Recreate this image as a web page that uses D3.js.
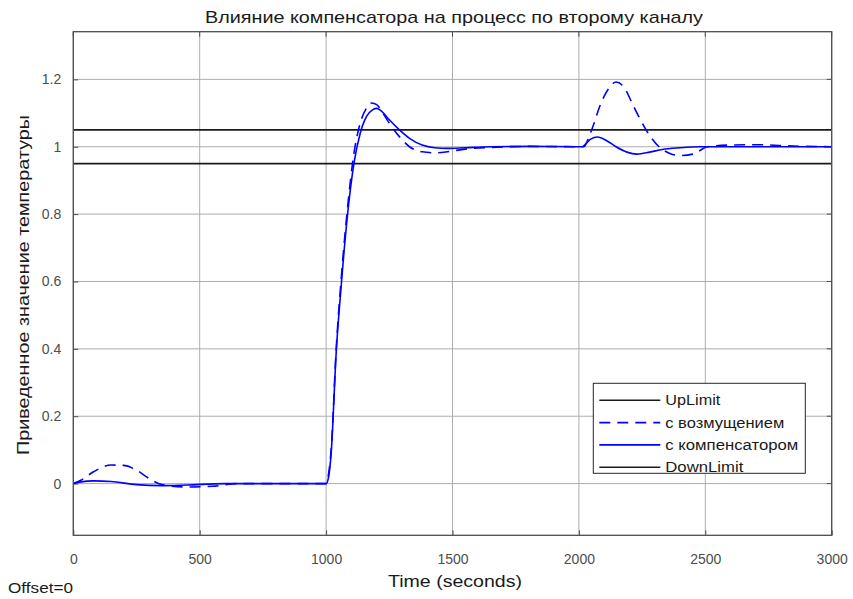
<!DOCTYPE html>
<html><head><meta charset="utf-8">
<script src="https://cdn.jsdelivr.net/npm/d3@7"></script>
<style>body{margin:0;background:#fff}svg{display:block}text{font-family:"Liberation Sans",Arial,sans-serif}</style>
</head><body><svg id="c" width="853" height="599"></svg>
<script>
const title = "Влияние компенсатора на процесс по второму каналу";
const xLabel = "Time (seconds)";
const yLabel = "Приведенное значение температуры";
const offsetLabel = "Offset=0";
const xTicks = [0, 500, 1000, 1500, 2000, 2500, 3000];
const yTicks = [0, 0.2, 0.4, 0.6, 0.8, 1, 1.2];
const legendNames = ["UpLimit", "с возмущением", "с компенсатором", "DownLimit"];
const upLimit = 1.05;
const downLimit = 0.95;

const timeDist = [0,30,80,150,200,250,300,350,450,550,650,1000,1010,1020,1040,1060,1085,1110,1135,1160,1180,1200,1220,1250,1290,1330,1380,1430,1480,1550,1650,1800,2000,2020,2040,2060,2080,2100,2120,2147,2180,2210,2240,2270,2317,2360,2400,2450,2510,2600,2700,2850,3000];
const valDist  = [0,0.01,0.035,0.055,0.054,0.04,0.015,-0.003,-0.01,-0.008,0,0,0.03,0.1,0.40,0.61,0.82,0.98,1.07,1.115,1.13,1.125,1.105,1.07,1.03,1.0,0.985,0.982,0.985,0.993,0.998,1.001,1.0,1.0,1.03,1.07,1.115,1.15,1.175,1.192,1.175,1.13,1.085,1.045,1.0,0.98,0.974,0.978,1.0,1.005,1.006,1.002,1.0];

const timeComp = [0,30,80,150,250,350,450,600,1000,1010,1020,1040,1060,1085,1110,1135,1160,1185,1200,1220,1250,1290,1330,1380,1430,1480,1550,1650,1800,2000,2012,2045,2074,2110,2147,2190,2229,2280,2330,2400,2480,2600,3000];
const valComp  = [0,0.005,0.008,0.006,-0.003,-0.006,-0.004,0,0,0.02,0.09,0.39,0.59,0.80,0.95,1.04,1.09,1.11,1.114,1.105,1.08,1.05,1.025,1.005,0.997,0.995,0.997,1.0,1.001,1.0,1.0,1.022,1.029,1.018,1.0,0.984,0.978,0.984,0.992,0.997,1.0,1.0,1.0];

const svg = d3.select("#c");
const L = 73.3, R = 831.7, T = 31.7, B = 535.3;
const x = d3.scaleLinear().domain([0, 3000]).range([L, R]);
const y = d3.scaleLinear().domain([-0.1535, 1.3415]).range([B, T]);
const axisCol = "#4d4d4d";
const FONT = "'Liberation Sans',Arial,sans-serif";

// grid
const g = svg.append("g");
g.selectAll(".gx").data(xTicks).enter().append("line")
  .attr("x1", d => x(d)).attr("x2", d => x(d)).attr("y1", T).attr("y2", B)
  .attr("stroke", "#adadad").attr("stroke-width", 1);
g.selectAll(".gy").data(yTicks).enter().append("line")
  .attr("y1", d => y(d)).attr("y2", d => y(d)).attr("x1", L).attr("x2", R)
  .attr("stroke", "#adadad").attr("stroke-width", 1);

// axes (ticks inward)
const xAxis = d3.axisBottom(x).tickValues(xTicks).tickSize(-5).tickPadding(19).tickFormat(d3.format("d"));
const yAxis = d3.axisLeft(y).tickValues(yTicks).tickSize(-5).tickPadding(12).tickFormat(d => d === 0 ? "0" : d3.format("~g")(d));
const xa = svg.append("g").attr("transform", `translate(0,${B})`).call(xAxis);
const ya = svg.append("g").attr("transform", `translate(${L},0)`).call(yAxis);
[xa, ya].forEach(a => {
  a.select(".domain").remove();
  a.selectAll("line").attr("stroke", axisCol);
  a.selectAll("text").attr("fill", axisCol).style("font-size", "14px").style("font-family", FONT);
});
// top/right ticks
svg.append("g").selectAll("line").data(xTicks).enter().append("line")
  .attr("x1", d => x(d)).attr("x2", d => x(d)).attr("y1", T).attr("y2", T + 5).attr("stroke", axisCol);
svg.append("g").selectAll("line").data(yTicks).enter().append("line")
  .attr("y1", d => y(d)).attr("y2", d => y(d)).attr("x1", R).attr("x2", R - 5).attr("stroke", axisCol);

// clip
svg.append("clipPath").attr("id", "clip").append("rect").attr("x", L).attr("y", T).attr("width", R - L).attr("height", B - T);
const plot = svg.append("g").attr("clip-path", "url(#clip)");

// limits
[upLimit, downLimit].forEach(v => {
  plot.append("line").attr("x1", L).attr("x2", R).attr("y1", y(v)).attr("y2", y(v))
    .attr("stroke", "#1a1a1a").attr("stroke-width", 1.8);
});

const line = d3.line().x(d => x(d[0])).y(d => y(d[1])).curve(d3.curveMonotoneX);
plot.append("path").datum(d3.zip(timeDist, valDist)).attr("d", line)
  .attr("fill", "none").attr("stroke", "#0000ff").attr("stroke-width", 1.6).attr("stroke-dasharray", "11,7");
plot.append("path").datum(d3.zip(timeComp, valComp)).attr("d", line)
  .attr("fill", "none").attr("stroke", "#0000ff").attr("stroke-width", 1.6);

// box
svg.append("rect").attr("x", L).attr("y", T).attr("width", R - L).attr("height", B - T)
  .attr("fill", "none").attr("stroke", axisCol).attr("stroke-width", 1.3);

// texts
svg.append("text").attr("x", 454).attr("y", 23).attr("text-anchor", "middle")
  .attr("textLength", 498).attr("lengthAdjust", "spacingAndGlyphs")
  .style("font-size", "17px").attr("fill", "#1a1a1a").text(title);
svg.append("text").attr("x", 455).attr("y", 587).attr("text-anchor", "middle")
  .attr("textLength", 134).attr("lengthAdjust", "spacingAndGlyphs")
  .style("font-size", "17px").attr("fill", "#1a1a1a").text(xLabel);
svg.append("text").attr("transform", `translate(29,285) rotate(-90)`).attr("text-anchor", "middle")
  .attr("textLength", 340).attr("lengthAdjust", "spacingAndGlyphs")
  .style("font-size", "17px").attr("fill", "#1a1a1a").text(yLabel);
svg.append("text").attr("x", 8).attr("y", 593).attr("textLength", 65).attr("lengthAdjust", "spacingAndGlyphs")
  .style("font-size", "14px").attr("fill", "#1a1a1a").text(offsetLabel);

// legend
const lx = 593.3, ly = 383.3, lw = 212, lh = 90;
const leg = svg.append("g");
leg.append("rect").attr("x", lx).attr("y", ly).attr("width", lw).attr("height", lh)
  .attr("fill", "#fff").attr("stroke", "#262626").attr("stroke-width", 1);
const legStyles = [
  {c: "#1a1a1a", d: null, w: 55},
  {c: "#0000ff", d: "11,7", w: 119},
  {c: "#0000ff", d: null, w: 133},
  {c: "#1a1a1a", d: null, w: 78}
];
legendNames.forEach((n, i) => {
  const yy = ly + 17 + i * 22.3;
  leg.append("line").attr("x1", lx + 6).attr("x2", lx + 67).attr("y1", yy).attr("y2", yy)
    .attr("stroke", legStyles[i].c).attr("stroke-width", 1.6).attr("stroke-dasharray", legStyles[i].d);
  leg.append("text").attr("x", lx + 72).attr("y", yy + 5)
    .attr("textLength", legStyles[i].w).attr("lengthAdjust", "spacingAndGlyphs")
    .style("font-size", "14px").attr("fill", "#1a1a1a").text(n);
});
</script></body></html>
